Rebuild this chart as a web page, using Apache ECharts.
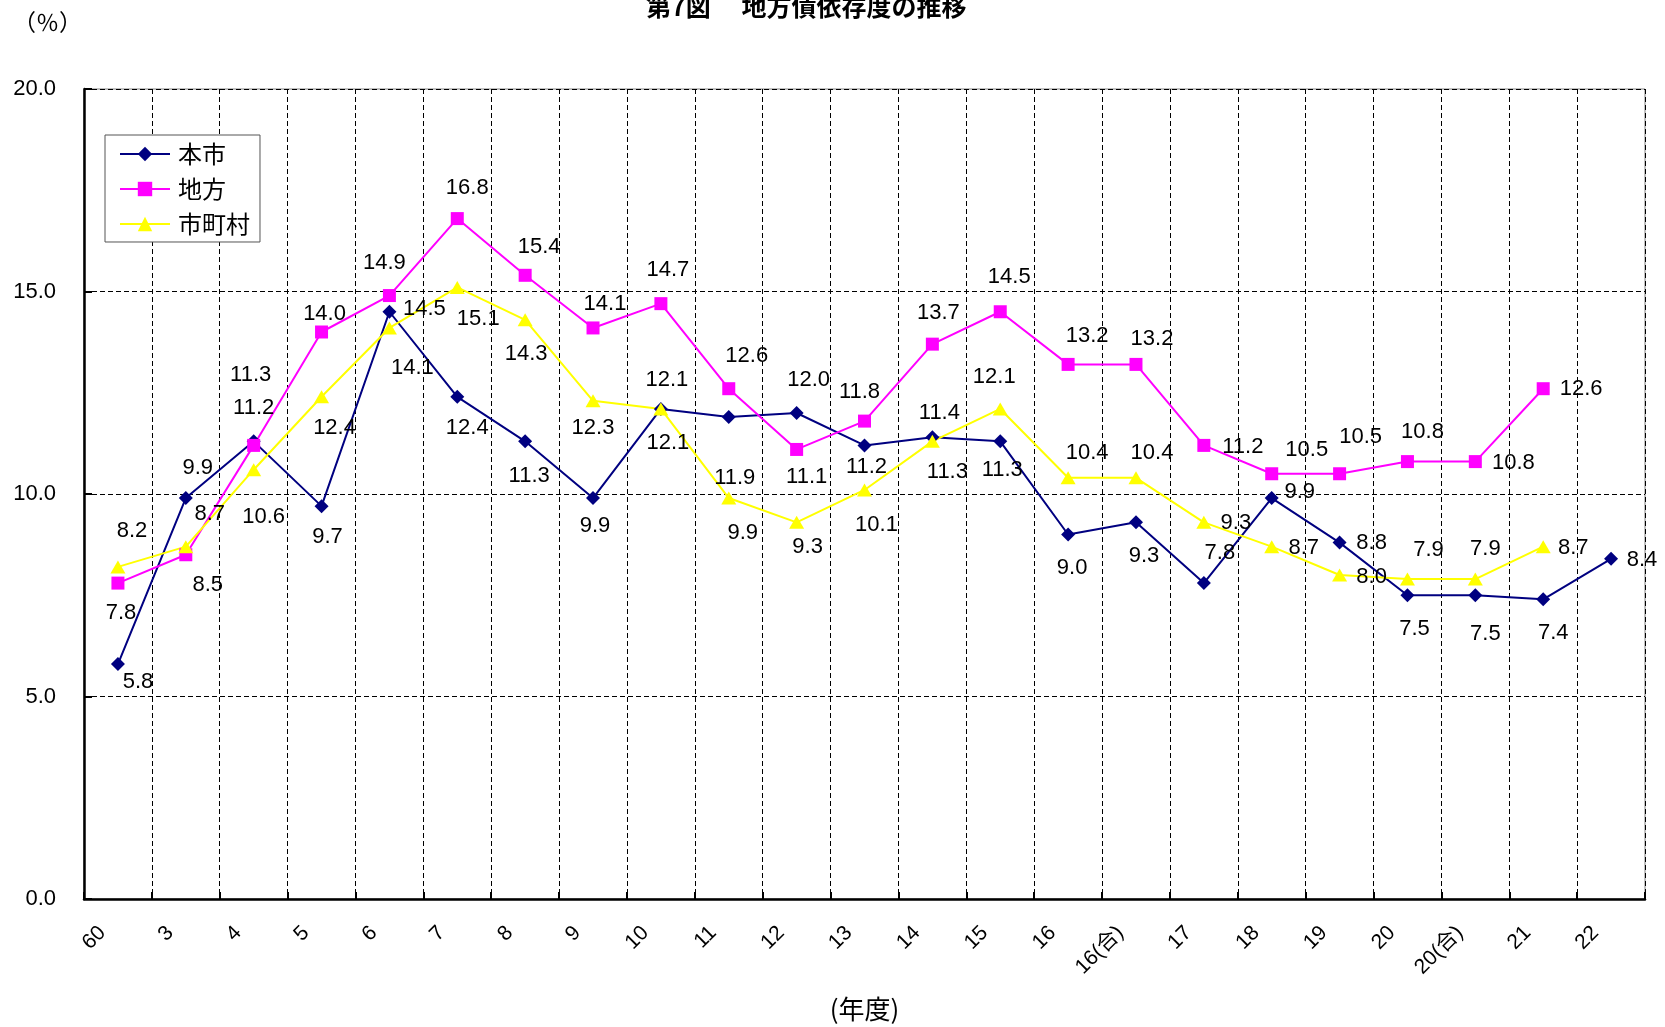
<!DOCTYPE html>
<html>
<head>
<meta charset="utf-8">
<script src="https://cdn.jsdelivr.net/npm/echarts@6/dist/echarts.min.js"></script>
<style>
html,body{margin:0;padding:0;background:#fff;}
#chart{width:1665px;height:1027px;}
</style>
</head>
<body>
<div id="chart"></div>
<script>
// ---- data ----
const categories = ['60','3','4','5','6','7','8','9','10','11','12','13','14','15','16','16(合)','17','18','19','20','20(合)','21','22'];
const seriesNames = ['本市','地方','市町村'];
const honshi    = [5.8, 9.9, 11.3, 9.7, 14.5, 12.4, 11.3, 9.9, 12.1, 11.9, 12.0, 11.2, 11.4, 11.3, 9.0, 9.3, 7.8, 9.9, 8.8, 7.5, 7.5, 7.4, 8.4];
const chiho     = [7.8, 8.5, 11.2, 14.0, 14.9, 16.8, 15.4, 14.1, 14.7, 12.6, 11.1, 11.8, 13.7, 14.5, 13.2, 13.2, 11.2, 10.5, 10.5, 10.8, 10.8, 12.6, null];
const shichoson = [8.2, 8.7, 10.6, 12.4, 14.1, 15.1, 14.3, 12.3, 12.1, 9.9, 9.3, 10.1, 11.3, 12.1, 10.4, 10.4, 9.3, 8.7, 8.0, 7.9, 7.9, 8.7, null];
const yTicks = [0, 5, 10, 15, 20];

// ---- label placement (layout only, px offsets of each value label from its point) ----
const offHonshi = [[20,18],[12,-30],[-3,-66],[6,31],[35,-3],[10,31],[4,35],[2,28],[6,-29],[6,61],[12,-33],[2,22],[7,-24],[2,29],[4,33],[8,34],[16,-30],[28,-6],[32,0],[7,34],[10,39],[10,34],[31,1]];
const offChiho = [[3,30],[22,30],[0,-37],[3,-18],[-5,-33],[10,-31],[14,-28],[12,-24],[7,-34],[18,-33],[10,27],[-5,-29],[6,-31],[9,-35],[19,-28],[16,-25],[39,2],[35,-24],[21,-37],[15,-30],[38,1],[38,0],[0,0]];
const offShichoson = [[14,-36],[24,-33],[10,47],[13,31],[23,40],[21,31],[1,34],[0,27],[7,34],[14,35],[11,25],[12,35],[15,31],[-6,-32],[19,-25],[16,-25],[32,1],[32,1],[32,2],[21,-29],[10,-30],[30,1],[0,0]];

const NUM_FONT = '"Liberation Sans", Arial, "Noto Sans CJK JP", sans-serif';
const JP_FONT = '"Noto Sans CJK JP", "Liberation Sans", sans-serif';

function lineSeries(name, values, offs, color, symbol, size) {
  return {
    name: name,
    type: 'line',
    data: values,
    symbol: symbol,
    symbolSize: size,
    showAllSymbol: true,
    connectNulls: false,
    lineStyle: { color: color, width: 2 },
    itemStyle: { color: color },
    emphasis: { disabled: true },
    label: {
      show: true,
      position: 'inside',
      align: 'center',
      verticalAlign: 'middle',
      color: '#000',
      fontFamily: NUM_FONT,
      fontSize: 22,
      formatter: p => (p.value == null ? '' : Number(p.value).toFixed(1))
    },
    labelLayout: function (params) {
      const o = offs[params.dataIndex] || [0, 0];
      return { dx: o[0], dy: o[1], hideOverlap: false };
    }
  };
}

const chart = echarts.init(document.getElementById('chart'), null, { renderer: 'canvas' });
chart.setOption({
  animation: false,
  backgroundColor: '#ffffff',
  title: [
    {
      text: '第7図　 地方債依存度の推移',
      left: 646,
      top: -6,
      padding: 0,
      textStyle: { fontFamily: JP_FONT, fontSize: 25, fontWeight: 'bold', color: '#000' }
    },
    {
      text: '（％）',
      left: 8,
      top: 6,
      textStyle: { fontFamily: JP_FONT, fontSize: 23, fontWeight: 'normal', color: '#000' }
    }
  ],
  legend: {
    data: seriesNames,
    orient: 'vertical',
    left: 105,
    top: 135,
    itemWidth: 50,
    itemHeight: 18,
    itemGap: 11,
    padding: [7, 10, 6, 14],
    borderColor: '#555555',
    borderWidth: 1,
    backgroundColor: '#ffffff',
    textStyle: { fontFamily: JP_FONT, fontSize: 24, color: '#000', padding: [0, 0, 0, 3] },
    selectedMode: false
  },
  grid: {
    left: 84, right: 20, top: 89, bottom: 128,
    containLabel: false,
    outerBoundsMode: 'none',
    show: true, borderColor: '#808080', borderWidth: 1, backgroundColor: 'transparent'
  },
  xAxis: {
    type: 'category',
    data: categories,
    boundaryGap: true,
    name: '(年度)',
    nameLocation: 'middle',
    nameGap: 97,
    nameTextStyle: { fontFamily: JP_FONT, fontSize: 26, color: '#000' },
    axisLine: { show: true, lineStyle: { color: '#000', width: 2.5 } },
    axisTick: { show: true, inside: true, length: 7, lineStyle: { color: '#000', width: 2 } },
    axisLabel: {
      interval: 0,
      rotate: 45,
      margin: 15,
      padding: [0, 22, 0, 0],
      fontFamily: NUM_FONT,
      fontSize: 21,
      color: '#000'
    },
    splitLine: { show: true, lineStyle: { color: '#000', width: 1, type: [5, 3] } }
  },
  yAxis: {
    type: 'value',
    min: yTicks[0],
    max: yTicks[yTicks.length - 1],
    interval: 5,
    axisLine: { show: true, lineStyle: { color: '#000', width: 2.5 } },
    axisTick: { show: true, inside: true, length: 8, lineStyle: { color: '#000', width: 2 } },
    axisLabel: {
      margin: 28,
      fontFamily: NUM_FONT,
      fontSize: 22,
      color: '#000',
      formatter: v => v.toFixed(1)
    },
    splitLine: { show: true, lineStyle: { color: '#000', width: 1, type: [5, 3] } }
  },
  series: [
    lineSeries(seriesNames[0], honshi, offHonshi, '#000080', 'diamond', 14),
    lineSeries(seriesNames[1], chiho, offChiho, '#FF00FF', 'rect', 13),
    lineSeries(seriesNames[2], shichoson, offShichoson, '#FFFF00', 'triangle', [15, 13])
  ]
});
</script>
</body>
</html>
